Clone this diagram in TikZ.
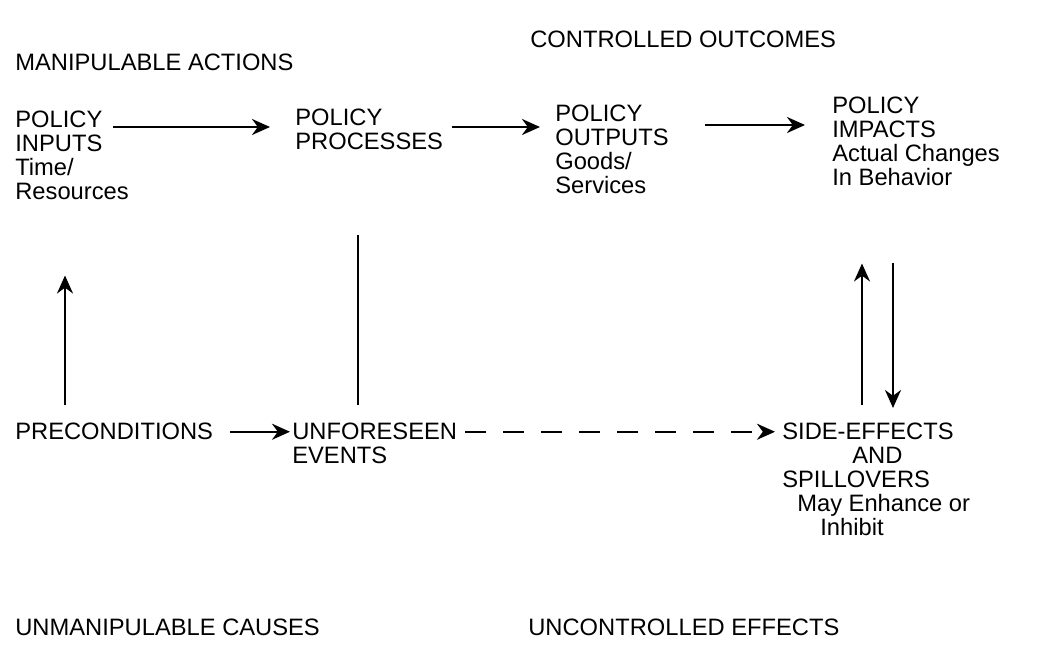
\documentclass[tikz,border=0pt]{standalone}
\usepackage{fontspec}
\setmainfont{Liberation Sans}
\usetikzlibrary{arrows.meta,positioning}

\tikzset{
  lbl/.style={anchor=north west,inner sep=0pt,align=left,
    font=\fontsize{13.5}{13.66}\selectfont},
  corner/.style={lbl,anchor=base west},
  flow/.style={-{Stealth[length=0.36cm,width=0.32cm]},line width=1.4pt},
  link/.style={line width=1.4pt},
  guess/.style={flow,dash pattern=on 0.42cm off 0.34cm},
}

\begin{document}
\begin{tikzpicture}[x=0.02cm,y=-0.02cm]
  \useasboundingbox (0,0) rectangle (1049,669);
  % corner captions
  \node[corner] (manip) at (15,71) {MANIPULABLE ACTIONS};
  \node[corner] (ctrl) at (530,48) {CONTROLLED OUTCOMES};
  \node[corner] (unmanip) at (15,635) {UNMANIPULABLE CAUSES};
  \node[corner] (unctrl) at (528,635) {UNCONTROLLED EFFECTS};

  % top row
  \node[lbl] (inputs) at (15,111) {POLICY\\INPUTS\\Time/\\Resources};
  \node[lbl] (processes) at (295,109) {POLICY\\PROCESSES};
  \node[lbl] (outputs) at (555,105) {POLICY\\OUTPUTS\\Goods/\\Services};
  \node[lbl] (impacts) at (832,97) {POLICY\\IMPACTS\\Actual Changes\\In Behavior};

  % bottom row
  \node[lbl] (precond) at (15,423) {PRECONDITIONS};
  \node[lbl] (events) at (292,423) {UNFORESEEN\\EVENTS};
  \node[lbl] (side) at (782,423) {SIDE-EFFECTS\\\hspace*{1.4cm}AND\\SPILLOVERS\\
    \hspace*{0.3cm}May Enhance or\\\hspace*{0.76cm}Inhibit};

  \draw[flow] ([shift={(98,16)}]inputs.north west) -- ([shift={(-25,18)}]processes.north west);
  \draw[flow] ([shift={(157,18)}]processes.north west) -- ([shift={(-15,22)}]outputs.north west);
  \draw[flow] ([shift={(150,20)}]outputs.north west) -- ([shift={(-27,28)}]impacts.north west);

  \draw[flow] ([shift={(50,-18)}]precond.north west) -- ([shift={(50,75)}]inputs.south west);
  \draw[link] ([shift={(63,85)}]processes.south west) -- ([shift={(66,-18)}]events.north west);
  \draw[flow] ([shift={(80,-18)}]side.north west) -- ([shift={(30,77)}]impacts.south west);
  \draw[flow] ([shift={(61,77)}]impacts.south west) -- ([shift={(111,-15)}]side.north west);

  \draw[flow] ([shift={(17,0)}]precond.east) -- ([shift={(-2,0)}]precond.east -| events.west);
  \draw[guess] ([shift={(8,0)}]precond.east -| events.east) -- ([shift={(-7,0)}]precond.east -| side.west);
\end{tikzpicture}
\end{document}
